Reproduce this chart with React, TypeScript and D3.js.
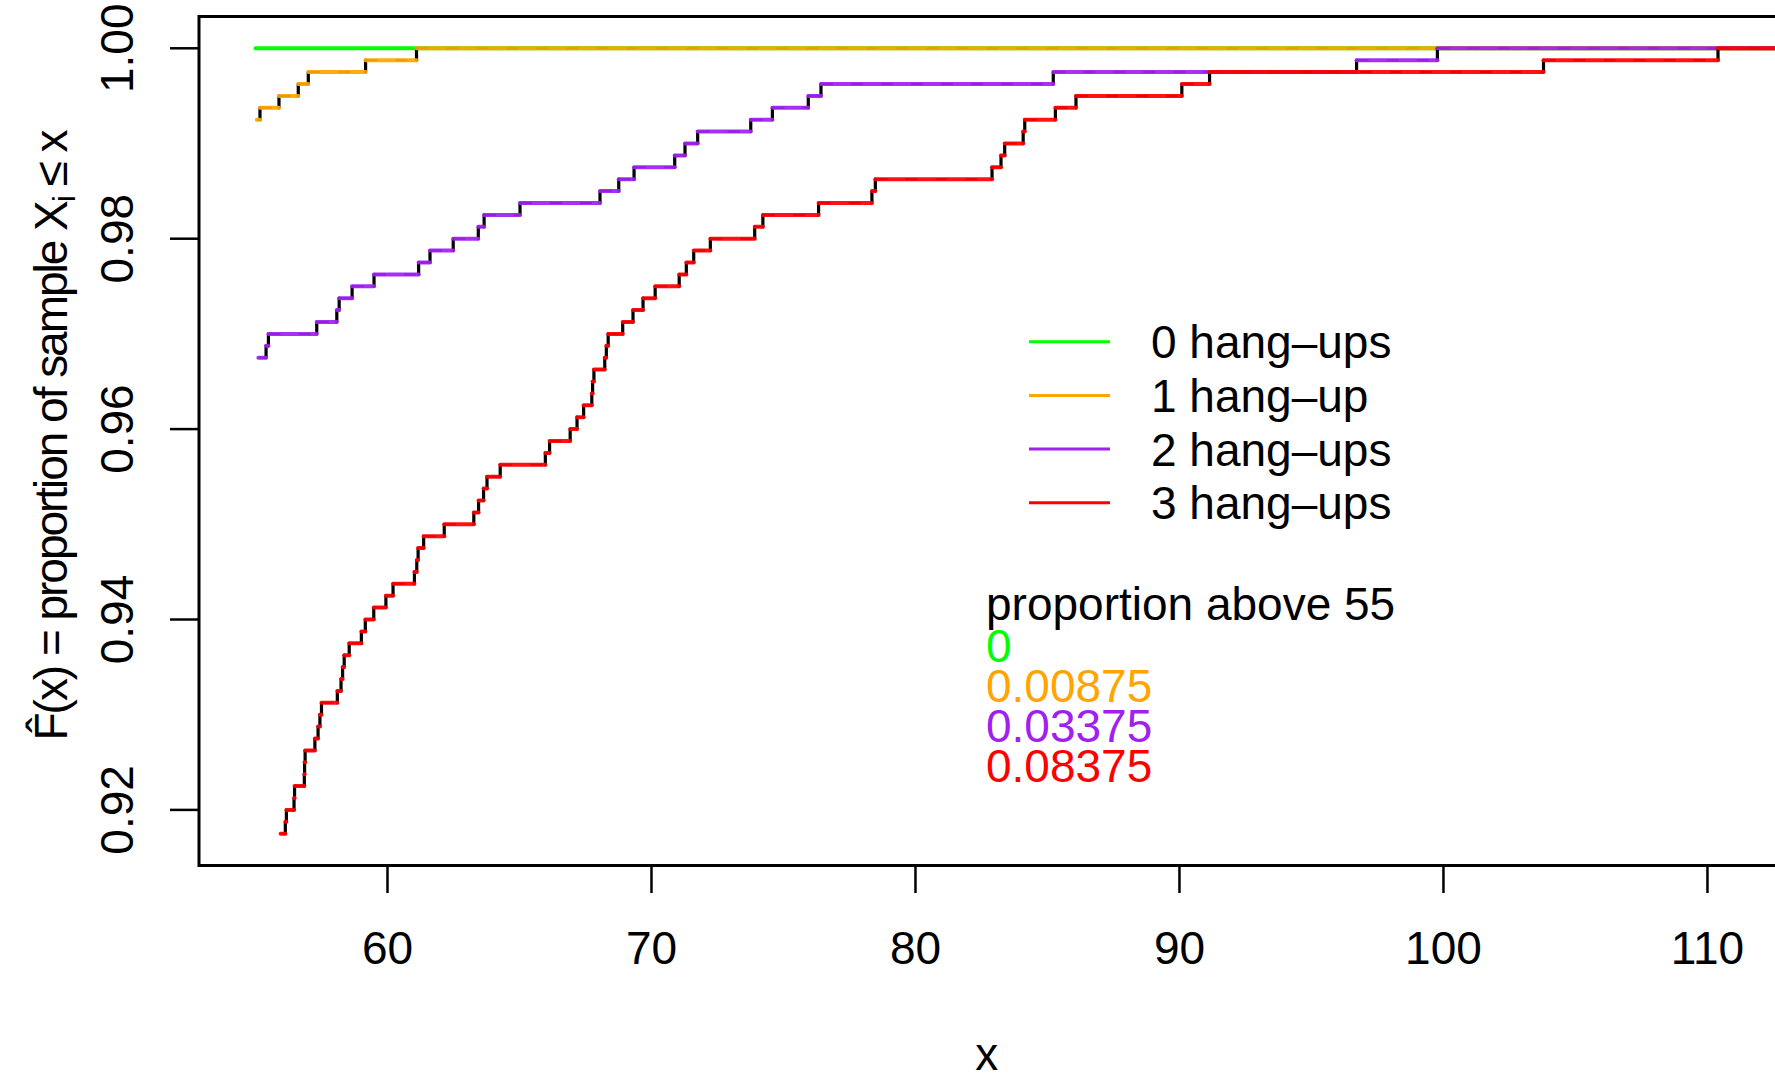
import React from "react";
import * as d3 from "d3";

// ---- data ----
const threshold = 55;
const sampleSize = 800;
const seriesNames = ["0 hang–ups", "1 hang–up", "2 hang–ups", "3 hang–ups"];
const seriesColors = ["#00FF00", "#FFA500", "#A020F0", "#FF0000"];
// sample values above 55 for each group (each jump = 1/800)
const values0: number[] = [];
const values1 = [55.05, 55.17, 55.89, 56.62, 57.0, 59.17, 61.1];
const values2 = [
  55.11, 55.4, 55.49, 57.32, 58.08, 58.17, 58.66, 59.49, 61.18, 61.61, 62.49,
  63.44, 63.66, 65.02, 68.05, 68.76, 69.34, 70.88, 71.27, 71.75, 73.76, 74.58,
  75.94, 76.42, 85.22, 96.71, 99.77,
];
const values3 = [
  55.95, 56.13, 56.17, 56.46, 56.48, 56.85, 56.86, 56.88, 57.25, 57.37, 57.44,
  57.5, 58.1, 58.24, 58.3, 58.36, 58.55, 59.01, 59.16, 59.48, 59.94, 60.21,
  61.02, 61.11, 61.16, 61.37, 62.15, 63.27, 63.45, 63.64, 63.77, 64.27, 65.98,
  66.14, 66.92, 67.18, 67.43, 67.74, 67.77, 67.82, 68.23, 68.29, 68.36, 68.91,
  69.3, 69.68, 70.14, 71.05, 71.32, 71.6, 72.23, 73.91, 74.22, 76.33, 78.35,
  78.48, 82.9, 83.24, 83.38, 84.08, 84.14, 85.3, 86.08, 90.09, 91.14, 103.79,
  110.4,
];
const allValues = [values0, values1, values2, values3];
const xTicks = [60, 70, 80, 90, 100, 110];
const yTicks = [0.92, 0.94, 0.96, 0.98, 1.0];

const W = 1775;
const H = 1077;
const FONT = "'Liberation Sans', Arial, Helvetica, sans-serif";
const FS = 46;

export default function App() {
  const x = d3.scaleLinear().domain([52.86, 112.54]).range([199, 1774.5]);
  const y = d3.scaleLinear().domain([0.91416, 1.00334]).range([865.5, 16.5]);
  const xMax = x.domain()[1];
  const left = 199;
  const right = 1777;
  const top = 16.5;
  const bottom = 865.5;

  const series = allValues.map((vals, s) => {
    const n = vals.length;
    const level = (i: number) => 1 - (n - i - 1) / sampleSize;
    const horiz: { x1: number; x2: number; v: number }[] = [];
    const vert: { x: number; v1: number; v2: number }[] = [];
    if (n === 0) {
      horiz.push({ x1: threshold, x2: xMax + 2, v: 1 });
    }
    vals.forEach((v, i) => {
      const next = i + 1 < n ? vals[i + 1] : xMax + 2;
      horiz.push({ x1: v, x2: next, v: level(i) });
      if (i > 0) vert.push({ x: v, v1: level(i - 1), v2: level(i) });
    });
    return { horiz, vert, color: seriesColors[s], n, hasBlack: n > 0 };
  });

  const fmt = (p: number) => String(+p.toFixed(5));

  return (
    <svg
      width={W}
      height={H}
      style={{ position: "absolute", left: 0, top: 0, background: "#fff" }}
      fontFamily={FONT}
    >
      <defs>
        <clipPath id="plotclip">
          <rect x={left} y={top} width={right - left} height={bottom - top} />
        </clipPath>
      </defs>
      <rect width={W} height={H} fill="#fff" />
      <g clipPath="url(#plotclip)">
        {series.map((s, si) => (
          <g key={si}>
            {s.hasBlack &&
              s.horiz.map((h, i) => (
                <line
                  key={"bh" + i}
                  x1={x(h.x1)}
                  x2={x(h.x2)}
                  y1={y(h.v)}
                  y2={y(h.v)}
                  stroke="#000"
                  strokeWidth={2}
                  strokeDasharray="12 18"
                />
              ))}
            {s.vert.map((v, i) => (
              <line
                key={"v" + i}
                x1={x(v.x)}
                x2={x(v.x)}
                y1={y(v.v1)}
                y2={y(v.v2)}
                stroke="#000"
                strokeWidth={3.2}
                strokeLinecap="round"
              />
            ))}
            {s.horiz.map((h, i) => (
              <line
                key={"h" + i}
                x1={x(h.x1)}
                x2={x(h.x2)}
                y1={y(h.v)}
                y2={y(h.v)}
                stroke={s.color}
                strokeOpacity={s.hasBlack ? 0.93 : 1}
                strokeWidth={4}
                strokeLinecap="round"
              />
            ))}
          </g>
        ))}
      </g>
      {/* box */}
      <rect
        x={left}
        y={top}
        width={right - left}
        height={bottom - top}
        fill="none"
        stroke="#000"
        strokeWidth={3}
      />
      {/* x axis */}
      {xTicks.map((t) => (
        <g key={t}>
          <line x1={x(t)} x2={x(t)} y1={bottom} y2={893} stroke="#000" strokeWidth={2.5} />
          <text x={x(t)} y={964} textAnchor="middle" fontSize={FS}>
            {t}
          </text>
        </g>
      ))}
      <text x={986.7} y={1070} textAnchor="middle" fontSize={FS}>
        x
      </text>
      {/* y axis */}
      {yTicks.map((t) => (
        <g key={t}>
          <line x1={170} x2={left} y1={y(t)} y2={y(t)} stroke="#000" strokeWidth={2.5} />
          <text
            transform={`translate(133.3,${y(t)}) rotate(-90)`}
            textAnchor="middle"
            fontSize={FS}
          >
            {t.toFixed(2)}
          </text>
        </g>
      ))}
      <text
        transform="translate(67,436) rotate(-90)"
        textAnchor="middle"
        fontSize={FS}
        textLength={611}
        lengthAdjust="spacing"
      >
        <tspan>F̂(x) = proportion of sample X</tspan>
        <tspan fontSize={FS * 0.7} dy={8}>i</tspan>
        <tspan dy={-8}> ≤ x</tspan>
      </text>
      {/* legend */}
      {seriesNames.map((name, i) => {
        const ly = 341.7 + i * 53.7;
        return (
          <g key={name}>
            <line x1={1029} x2={1110} y1={ly} y2={ly} stroke={seriesColors[i]} strokeWidth={3} />
            <text x={1151} y={ly + 16.5} fontSize={FS}>
              {name}
            </text>
          </g>
        );
      })}
      {/* proportion above threshold */}
      <text x={986} y={620} fontSize={FS}>
        proportion above {threshold}
      </text>
      {series.map((s, i) => (
        <text key={i} x={986} y={661.5 + i * 40} fontSize={FS} fill={s.color}>
          {fmt(s.n / sampleSize)}
        </text>
      ))}
    </svg>
  );
}
